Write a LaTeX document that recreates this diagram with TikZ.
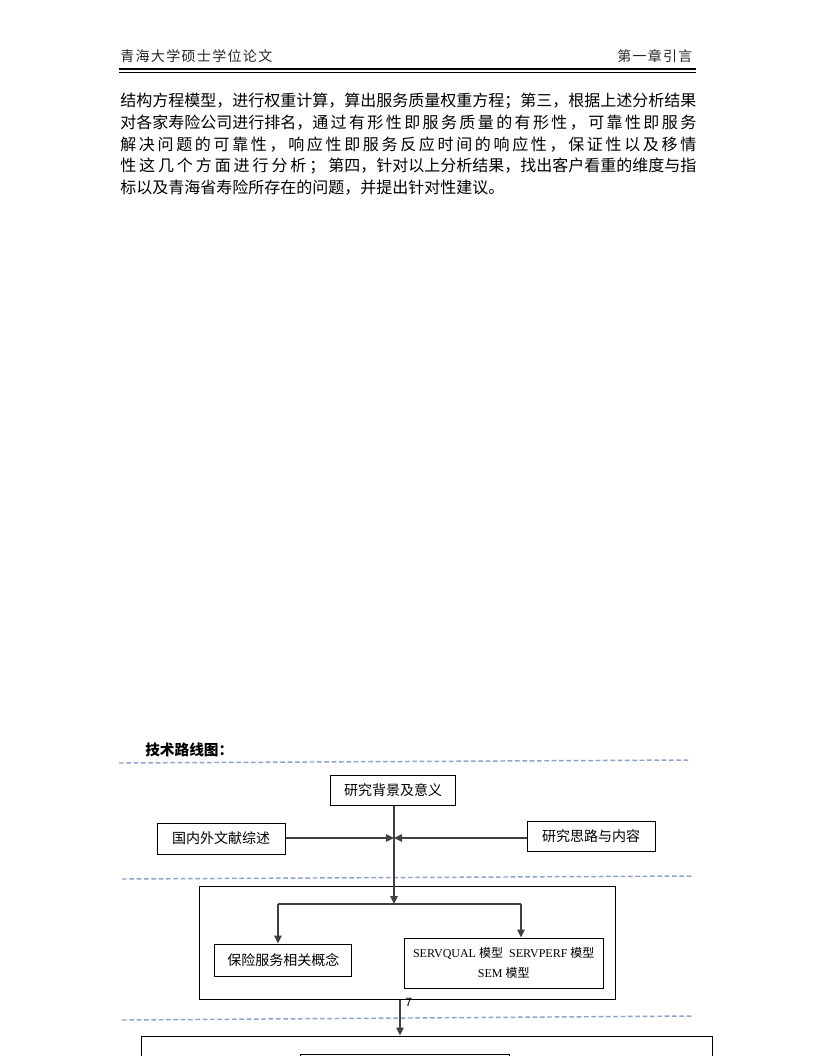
\documentclass[tikz,border=0pt]{standalone}
\usepackage{fontspec}
\setmainfont{Liberation Serif}
\newfontfamily\cjk{Noto Sans CJK SC}
\newfontfamily\numfont{Liberation Sans}
\usetikzlibrary{arrows.meta}
\definecolor{sepblue}{RGB}{143,163,199}
\def\jspread#1{\ifx#1\relax\else#1\hfil\expandafter\jspread\fi}
\begin{document}
\begin{tikzpicture}[x=0.75pt,y=-0.75pt,
  hdr/.style={inner sep=0pt, anchor=base west, text=black!85, font=\cjk\fontsize{10.5pt}{12pt}\selectfont},
  txt/.style={inner sep=0pt, anchor=base west, font=\cjk\fontsize{12pt}{14pt}\selectfont},
  box/.style={draw, line width=0.75pt, inner sep=0pt, align=center, font=\cjk\fontsize{10.5pt}{12pt}\selectfont},
  conn/.style={draw=black!75, line width=1.1pt},
  tip/.style={-{Triangle[length=6pt,width=5.5pt]}},
  sep/.style={draw=sepblue, line width=1.1pt, dash pattern=on 3.5pt off 2pt}]
\useasboundingbox (0,0) rectangle (816,1056);
\clip (0,0) rectangle (816,1056);
% header
\node[hdr] (h1) at (120,62) {\hbox to 114pt{\jspread 青海大学硕士学位论文\relax\unskip}};
\node[hdr] (h2) at (617,62) {\hbox to 56.25pt{\jspread 第一章引言\relax\unskip}};
\draw[line width=2.2pt] (119,69) -- (696,69);
\draw[line width=0.75pt] (119,72.3) -- (696,72.3);
% body text
\node[txt] (l1) at (120,106.5) {\hbox to 432pt{\jspread 结构方程模型，进行权重计算，算出服务质量权重方程；第三，根据上述分析结果\relax\unskip}};
\node[txt] (l2) at (120,128.3) {\hbox to 432pt{对各家寿险公司进行排名，\jspread 通过有形性即服务质量的有形性，可靠性即服务\relax\unskip}};
\node[txt] (l3) at (120,150.1) {\hbox to 432pt{\jspread 解决问题的可靠性，响应性即服务反应时间的响应性，保证性以及移情\relax\unskip}};
\node[txt] (l4) at (120,171.9) {\hbox to 432pt{\jspread 性这几个方面进行分析；\relax 第四，针对以上分析结果，找出客户看重的维度与指}};
\node[txt] (l5) at (120,193.7) {标以及青海省寿险所存在的问题，并提出针对性建议。};
% title
\node[inner sep=0pt, anchor=base west, font=\cjk\bfseries\fontsize{11pt}{13pt}\selectfont] (title) at (145,755.5) {技术路线图：};
% separators
\draw[sep] (119,763) -- (689,760);
\draw[sep] (122,879) -- (692,876);
\draw[sep] (122,1020) -- (692,1016);
% boxes
\node[box, minimum width=93.75pt, minimum height=22.5pt] (bg) at (393,790.5) {研究背景及意义};
\node[box, minimum width=96pt, minimum height=23.25pt] (lit) at (221,838.5) {国内外文献综述};
\node[box, minimum width=96pt, minimum height=22.5pt] (idea) at (591,836) {研究思路与内容};
\node[draw, line width=0.75pt, minimum width=312pt, minimum height=84.75pt] (frame) at (407,942.5) {};
\node[box, minimum width=103.1pt, minimum height=24pt] (concept) at (283.25,960) {保险服务相关概念};
\node[box, minimum width=149.6pt, minimum height=37.5pt, font=\fontsize{9pt}{14.5pt}\selectfont] (serv) at (503.75,963)
  {SERVQUAL {\cjk 模型}\ \ SERVPERF {\cjk 模型}\\SEM {\cjk 模型}};
\node[draw, line width=0.75pt, minimum width=428.25pt, minimum height=75pt] (bottom) at (426.5,1086) {};
\node[draw, line width=0.75pt, minimum width=156.75pt, minimum height=39pt] (inner) at (404.5,1080) {};
\node[inner sep=0pt, anchor=base west, font=\numfont\fontsize{9pt}{10pt}\selectfont] (pg) at (405,1006) {7};
% coordinates
\coordinate (j) at (394,838);
\coordinate (br) at (394,904);
\coordinate (cl) at (278,904);
\coordinate (cr) at (521,904);
\coordinate (d) at (400,1010);
% connectors
\draw[conn,tip] (bg.south -| j) -- (br);
\draw[conn,tip] (lit.east |- j) -- (j);
\draw[conn,tip] (idea.west |- j) -- (j);
\draw[conn] (cl) -- (cr);
\draw[conn,tip] (cl) -- (cl |- concept.north);
\draw[conn,tip] (cr) -- (cr |- serv.north);
\draw[conn,tip] (frame.south -| d) -- (d |- bottom.north);
\end{tikzpicture}
\end{document}
